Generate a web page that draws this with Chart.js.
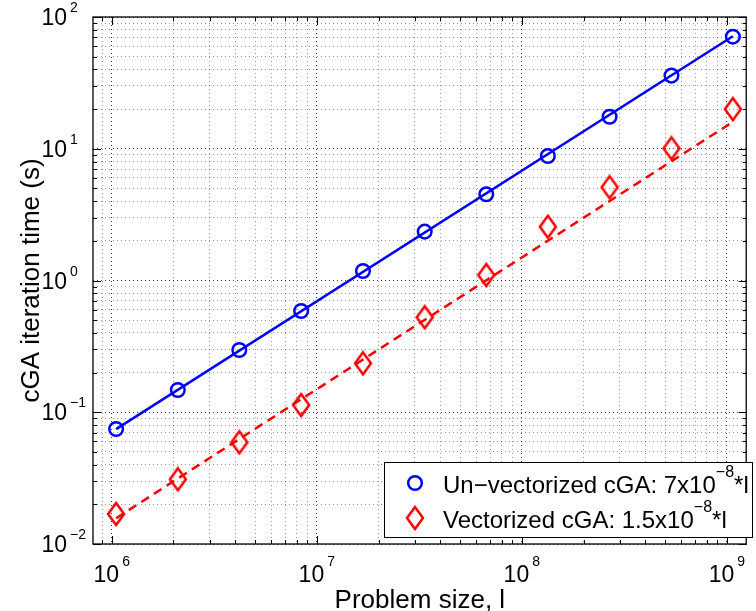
<!DOCTYPE html>
<html>
<head>
<meta charset="utf-8">
<script src="https://cdn.jsdelivr.net/npm/chart.js@4.4.1/dist/chart.umd.min.js"></script>
<style>
  html, body { margin: 0; padding: 0; background: #fff; }
</style>
</head>
<body>
<canvas id="timingChart" width="756" height="611"></canvas>
<script>
const problemSize = [1.05e6, 2.1e6, 4.19e6, 8.39e6, 1.68e7, 3.36e7, 6.71e7, 1.34e8, 2.68e8, 5.37e8, 1.07e9];
const unvectorizedTime = [0.0746, 0.1475, 0.297, 0.587, 1.18, 2.35, 4.51, 8.81, 17.5, 35.9, 70.9];
const vectorizedTime = [0.0169, 0.031, 0.0591, 0.1135, 0.235, 0.526, 1.10, 2.56, 5.1, 10.07, 20.0];

// Fitted lines (end points)
const fitSize = [1.05e6, 1.07e9];
const unvectorizedFit = [0.0745, 71.5];
const vectorizedFit = [0.0157, 16.0];

// Axes
const xRange = [8.1e5, 1.25e9];
const yRange = [1e-2, 1e2];
const xDecades = [1e6, 1e7, 1e8, 1e9];
const xExponents = ['6', '7', '8', '9'];
const yDecades = [1e-2, 1e-1, 1e0, 1e1, 1e2];
const yExponents = ['\u22122', '\u22121', '0', '1', '2'];
const minorSteps = [1, 2, 3, 4, 5, 6, 7, 8, 9];

const xTitle = 'Problem size, l';
const yTitle = 'cGA iteration time (s)';
const legendLabels = [
    ['Un\u2212vectorized cGA: 7x10', '\u22128', '*l'],
    ['Vectorized cGA: 1.5x10', '\u22128', '*l']
];

const BLUE = '#0000ff';
const RED = '#ff0000';
const FONT = '"Liberation Sans", Arial, Helvetica, sans-serif';

// Tick values for a log axis: 1..9 x 10^n inside the range
function logTicks(range) {
    const out = [];
    const lo = Math.floor(Math.log10(range[0]));
    const hi = Math.ceil(Math.log10(range[1]));
    for (let e = lo; e <= hi; e++) {
        for (const m of minorSteps) {
            const v = m * Math.pow(10, e);
            if (v >= range[0] && v <= range[1]) out.push(v);
        }
    }
    return out;
}

function isDecade(v) {
    const l = Math.log10(v);
    return Math.abs(l - Math.round(l)) < 1e-9;
}

// MATLAB style tall diamond marker
function makeDiamond() {
    const c = document.createElement('canvas');
    c.width = 20;
    c.height = 26;
    const g = c.getContext('2d');
    g.strokeStyle = RED;
    g.lineWidth = 2.5;
    g.beginPath();
    g.moveTo(10, 2);
    g.lineTo(18, 13);
    g.lineTo(10, 24);
    g.lineTo(2, 13);
    g.closePath();
    g.stroke();
    return c;
}
const diamond = makeDiamond();

function toPoints(xs, ys) {
    return xs.map((x, i) => ({ x: x, y: ys[i] }));
}

// Draws box, inward ticks, tick labels with exponents, axis titles and the legend
const matlabAxes = {
    id: 'matlabAxes',
    afterDraw(chart) {
        const ctx = chart.ctx;
        const a = chart.chartArea;
        const xs = chart.scales.x;
        const ys = chart.scales.y;
        ctx.save();

        // inward ticks on all four sides
        ctx.strokeStyle = '#000';
        ctx.lineWidth = 1;
        ctx.beginPath();
        xs.ticks.forEach(t => {
            const px = Math.round(xs.getPixelForValue(t.value)) + 0.5;
            const len = isDecade(t.value) ? 8 : 4;
            ctx.moveTo(px, a.bottom); ctx.lineTo(px, a.bottom - len);
            ctx.moveTo(px, a.top); ctx.lineTo(px, a.top + len);
        });
        ys.ticks.forEach(t => {
            const py = Math.round(ys.getPixelForValue(t.value)) + 0.5;
            const len = isDecade(t.value) ? 8 : 4;
            ctx.moveTo(a.left, py); ctx.lineTo(a.left + len, py);
            ctx.moveTo(a.right, py); ctx.lineTo(a.right - len, py);
        });
        ctx.stroke();

        // box
        ctx.lineWidth = 1.3;
        ctx.strokeRect(a.left, a.top, a.right - a.left - 0.5, a.bottom - a.top);

        ctx.fillStyle = '#000';
        ctx.textBaseline = 'alphabetic';

        // y tick labels
        yDecades.forEach((v, i) => {
            const py = ys.getPixelForValue(v);
            ctx.font = '23px ' + FONT;
            ctx.textAlign = 'right';
            ctx.fillText('10', 67, py + 8);
            ctx.font = '14px ' + FONT;
            ctx.textAlign = 'left';
            ctx.fillText(yExponents[i], 70, py - 5);
        });

        // x tick labels
        xDecades.forEach((v, i) => {
            const px = xs.getPixelForValue(v);
            ctx.font = '23px ' + FONT;
            const wBase = ctx.measureText('10').width;
            ctx.font = '14px ' + FONT;
            const wExp = ctx.measureText(xExponents[i]).width;
            const left = px - (wBase + 3 + wExp) / 2;
            ctx.textAlign = 'left';
            ctx.font = '23px ' + FONT;
            ctx.fillText('10', left, 582);
            ctx.font = '14px ' + FONT;
            ctx.fillText(xExponents[i], left + wBase + 3, 566);
        });

        // axis titles
        ctx.font = '26px ' + FONT;
        ctx.textAlign = 'center';
        ctx.fillText(xTitle, (a.left + a.right) / 2, 608);
        ctx.save();
        ctx.translate(39, (a.top + a.bottom) / 2);
        ctx.rotate(-Math.PI / 2);
        ctx.fillText(yTitle, 0, 0);
        ctx.restore();

        // legend
        const box = { left: 384, top: 462, right: 752, bottom: 537 };
        ctx.fillStyle = '#fff';
        ctx.fillRect(box.left, box.top, box.right - box.left, box.bottom - box.top);
        ctx.strokeStyle = '#000';
        ctx.lineWidth = 1;
        ctx.strokeRect(box.left + 0.5, box.top + 0.5, box.right - box.left, box.bottom - box.top);

        const rows = [483, 518];
        // circle marker
        ctx.strokeStyle = BLUE;
        ctx.lineWidth = 2.5;
        ctx.beginPath();
        ctx.arc(415, rows[0], 6.8, 0, Math.PI * 2);
        ctx.stroke();
        // diamond marker
        ctx.drawImage(diamond, 415 - diamond.width / 2, rows[1] - diamond.height / 2);

        ctx.fillStyle = '#000';
        ctx.textAlign = 'left';
        legendLabels.forEach((parts, i) => {
            const base = rows[i] + 10;
            let x = 443;
            ctx.font = '24px ' + FONT;
            ctx.fillText(parts[0], x, base);
            x += ctx.measureText(parts[0]).width;
            ctx.font = '16px ' + FONT;
            ctx.fillText(parts[1], x, base - 16);
            x += ctx.measureText(parts[1]).width;
            ctx.font = '24px ' + FONT;
            ctx.fillText(parts[2], x, base);
        });

        ctx.restore();
    }
};

const gridColor = (context) => {
    if (!context.tick) return 'rgba(0,0,0,0)';
    return isDecade(context.tick.value) ? 'rgba(0,0,0,0.75)' : 'rgba(0,0,0,0.4)';
};

const ctx = document.getElementById('timingChart').getContext('2d');
const timingChart = new Chart(ctx, {
    type: 'scatter',
    data: {
        datasets: [
            {
                label: 'Un-vectorized cGA',
                data: toPoints(problemSize, unvectorizedTime),
                showLine: false,
                pointStyle: 'circle',
                pointRadius: 6.8,
                pointBorderWidth: 2.5,
                borderColor: BLUE,
                backgroundColor: 'rgba(0,0,0,0)'
            },
            {
                label: 'Vectorized cGA',
                data: toPoints(problemSize, vectorizedTime),
                showLine: false,
                pointStyle: diamond,
                borderColor: RED,
                backgroundColor: RED
            },
            {
                label: 'Un-vectorized fit',
                data: toPoints(fitSize, unvectorizedFit),
                showLine: true,
                pointRadius: 0,
                borderColor: BLUE,
                borderWidth: 2.5
            },
            {
                label: 'Vectorized fit',
                data: toPoints(fitSize, vectorizedFit),
                showLine: true,
                pointRadius: 0,
                borderColor: RED,
                borderWidth: 2.5,
                borderDash: [9, 6]
            }
        ]
    },
    options: {
        responsive: false,
        animation: false,
        devicePixelRatio: 1,
        layout: {
            padding: { left: 93, right: 0, top: 17, bottom: 67 }
        },
        plugins: {
            legend: { display: false },
            tooltip: { enabled: false }
        },
        scales: {
            x: {
                type: 'logarithmic',
                position: 'bottom',
                min: xRange[0],
                max: xRange[1],
                afterBuildTicks: (scale) => {
                    scale.ticks = logTicks(xRange).map(v => ({ value: v }));
                },
                ticks: { display: false },
                grid: { color: gridColor, lineWidth: 1, drawTicks: false, tickLength: 0 },
                border: { display: false, dash: [1, 3] }
            },
            y: {
                type: 'logarithmic',
                position: 'left',
                min: yRange[0],
                max: yRange[1],
                afterBuildTicks: (scale) => {
                    scale.ticks = logTicks(yRange).map(v => ({ value: v }));
                },
                ticks: { display: false },
                grid: { color: gridColor, lineWidth: 1, drawTicks: false, tickLength: 0 },
                border: { display: false, dash: [1, 3] }
            }
        }
    },
    plugins: [matlabAxes]
});
</script>
</body>
</html>
